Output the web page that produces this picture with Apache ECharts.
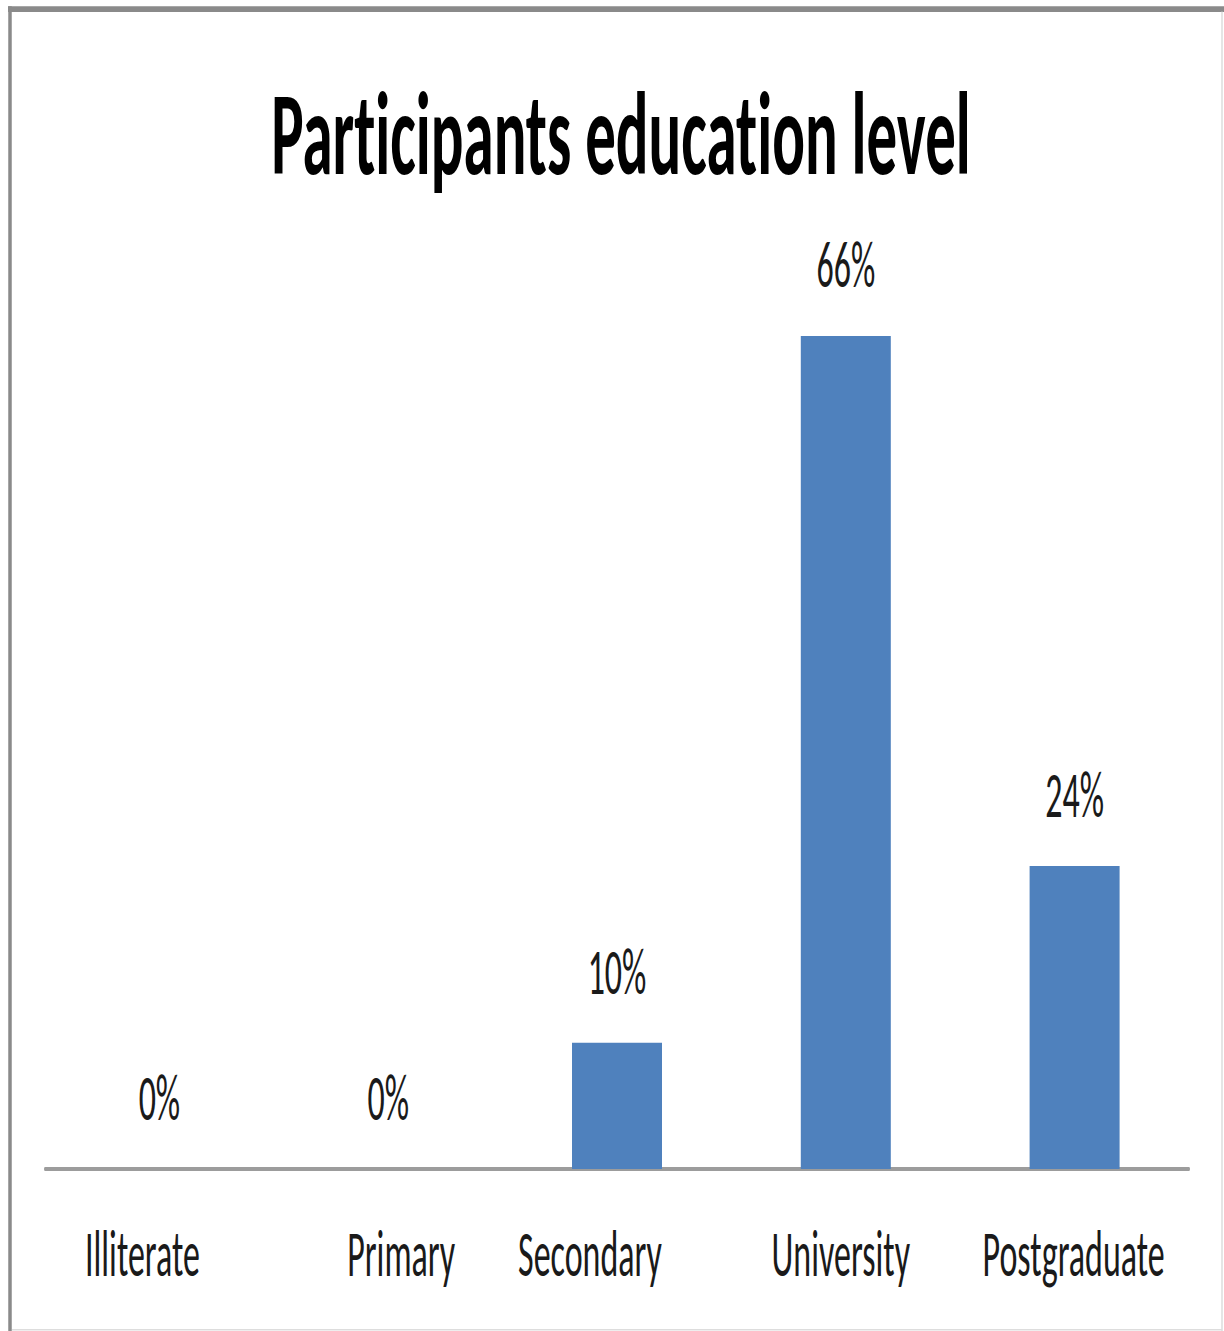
<!DOCTYPE html>
<html>
<head>
<meta charset="utf-8">
<title>Participants education level</title>
<script src="https://cdn.jsdelivr.net/npm/echarts@6/dist/echarts.min.js"></script>
<style>
  html, body { margin: 0; padding: 0; background: #fff; }
  #page { width: 1224px; height: 1331px; overflow: hidden; position: relative; }
  /* the chart is laid out at 1224x690 and drawn tall, like a stretched slide export */
  #chart {
    position: absolute;
    left: 0;
    top: 0;
    width: 1224px;
    height: 690px;
    transform: scaleY(1.929);
    transform-origin: 0 0;
  }
  #chart text { font-variant-ligatures: none; }
</style>
</head>
<body>
<div id="page"><div id="chart"></div></div>
<script>
// ---- data ----
const titleText = 'Participants education level';
const categories = ['Illiterate', 'Primary', 'Secondary', 'University', 'Postgraduate'];
const percentages = [0, 0, 10, 66, 24];

// ---- styling ----
const FONT = 'Carlito, Calibri, Lato, "Open Sans", sans-serif';
const BAR_COLOR = '#4F81BD';
const TEXT_COLOR = '#1a1a1a';
const LABEL_SIZE = 34;
// small horizontal nudges of the category names (px, + = right)
const labelNudge = [-17, 13, -27, -5, -1];

const rich = {};
labelNudge.forEach(function (dx, i) {
  rich['c' + i] = {
    fontFamily: FONT,
    fontSize: LABEL_SIZE,
    color: TEXT_COLOR,
    padding: dx < 0 ? [0, -2 * dx, 0, 0] : [0, 0, 0, 2 * dx]
  };
});

const chart = echarts.init(document.getElementById('chart'), null, {
  renderer: 'svg'
});

chart.setOption({
  backgroundColor: '#ffffff',
  animation: false,
  title: {
    text: titleText,
    left: 616,
    textAlign: 'center',
    top: 34,
    textStyle: {
      fontFamily: FONT,
      fontWeight: 'bold',
      fontSize: 61,
      color: '#000000'
    }
  },
  grid: {
    left: 45,
    right: 35,
    top: 82.6,
    bottom: 84
  },
  xAxis: {
    type: 'category',
    data: categories,
    axisLine: { show: true, lineStyle: { color: '#9c9c9c', width: 2 } },
    axisTick: { show: false },
    axisLabel: {
      margin: 27,
      interval: 0,
      formatter: function (value, index) {
        return '{c' + index + '|' + value + '}';
      },
      rich: rich
    },
    splitLine: { show: false }
  },
  yAxis: {
    type: 'value',
    min: 0,
    max: 80,
    show: false,
    splitLine: { show: false }
  },
  series: [{
    type: 'bar',
    data: percentages,
    barWidth: 90,
    itemStyle: { color: BAR_COLOR },
    label: {
      show: true,
      position: 'top',
      distance: 20,
      formatter: '{c}%',
      fontFamily: FONT,
      fontSize: LABEL_SIZE,
      color: TEXT_COLOR
    }
  }],
  graphic: [
    // chart-area frame: darker top/left edge, faint right/bottom edge
    { type: 'line', shape: { x1: 8, y1: 4.7, x2: 1224, y2: 4.7 },
      style: { stroke: '#8a8a8a', lineWidth: 3 }, silent: true },
    { type: 'line', shape: { x1: 10, y1: 3.2, x2: 10, y2: 690 },
      style: { stroke: '#8a8a8a', lineWidth: 3.5 }, silent: true },
    { type: 'line', shape: { x1: 1222, y1: 6, x2: 1222, y2: 690 },
      style: { stroke: '#d4d4d4', lineWidth: 1.2 }, silent: true },
    { type: 'line', shape: { x1: 12, y1: 689.4, x2: 1222, y2: 689.4 },
      style: { stroke: '#dddddd', lineWidth: 0.8 }, silent: true }
  ]
});
</script>
</body>
</html>
